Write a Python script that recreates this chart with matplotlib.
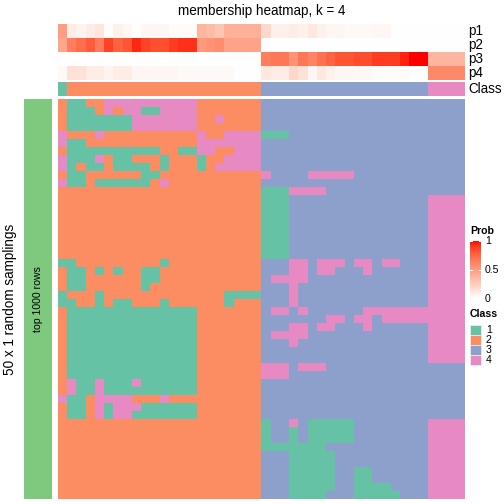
import numpy as np
import matplotlib
matplotlib.use("Agg")
import matplotlib.pyplot as plt
from matplotlib.colors import ListedColormap

plt.rcParams['font.family'] = ['Liberation Sans', 'DejaVu Sans']

# ---------------- data ----------------
title = "membership heatmap, k = 4"
row_title = "50 x 1 random samplings"
bar_label = "top 1000 rows"
ann_names = ["p1", "p2", "p3", "p4"]
class_names = ["1", "2", "3", "4"]
class_colors = ["#66C2A5", "#FC8D62", "#8DA0CB", "#E78AC3"]

# class of each column (sample) in the top annotation
col_class = [1] + [2] * 21 + [3] * 18 + [4] * 4

p1 = [0.50,
      0.10, 0.06, 0.09, 0.13, 0.01, 0.08, 0.04, 0.00, 0.05, 0.05, 0.05, 0.02, 0.02, 0.02,
      0.38, 0.35, 0.30, 0.40, 0.40, 0.40, 0.40,
      0.20, 0.08, 0.08, 0.10, 0.08, 0.12, 0.08, 0.05, 0.05, 0.03, 0.03, 0.03, 0.04, 0.04,
      0.00, 0.00, 0.00, 0.00,
      0.00, 0.00, 0.00, 0.00]
p2 = [0.45,
      0.65, 0.72, 0.80, 0.66, 0.88, 0.77, 0.82, 0.95, 0.88, 0.84, 0.84, 0.90, 0.93, 0.93,
      0.52, 0.55, 0.58, 0.47, 0.47, 0.47, 0.47,
      0, 0, 0, 0, 0, 0, 0, 0, 0, 0, 0, 0, 0, 0, 0, 0, 0, 0,
      0, 0, 0, 0]
p3 = [0.00,
      0, 0, 0, 0, 0, 0, 0, 0, 0, 0, 0, 0, 0, 0, 0, 0, 0, 0, 0, 0, 0,
      0.65, 0.68, 0.68, 0.55, 0.68, 0.62, 0.70, 0.76, 0.82, 0.82, 0.85, 0.85, 0.90, 0.90,
      0.90, 0.96, 1.00, 1.00,
      0.38, 0.38, 0.38, 0.38]
p4 = [0.03,
      0.15, 0.15, 0.10, 0.10, 0.06, 0.10, 0.10, 0.05, 0.05, 0.05, 0.05, 0.05, 0.03, 0.03,
      0.03, 0.03, 0.03, 0.03, 0.00, 0.00, 0.00,
      0.12, 0.10, 0.10, 0.20, 0.15, 0.05, 0.12, 0.08, 0.04, 0.04, 0.04, 0.04, 0.02, 0.02,
      0.02, 0.02, 0.00, 0.00,
      0.60, 0.60, 0.60, 0.60]

# membership class per sampling (rows) and sample (columns);
# blocks: class-1 col | class-2 cols | class-3 cols | class-4 cols
membership_rows = [
    "2 112244444444442222222 333333333333333333 3333",
    "2 111242441144442222222 333333333333333333 3333",
    "2 111111144444442242222 333333333333333333 3333",
    "2 111111144444442222222 333333333333333333 3333",
    "4 222422222222224224444 111333333333333333 3333",
    "4 112222222222224444444 333333333333333333 3333",
    "2 111111111122114422444 333333333333333333 3333",
    "4 111421122212221224444 333333333333333333 3333",
    "4 121121111212221244444 333333333333333333 3333",
    "2 112222221122222222222 433334444433333333 3333",
    "4 112111111242222222222 333333333333333333 3333",
    "2 222222222222222222222 111444433333333333 3333",
    "2 222222222222222222222 111333333333333333 4444",
    "2 222222222222222222222 111333333333333333 4444",
    "2 222222222222222222222 111333333333333333 4444",
    "2 222222222222222222222 111333333333333333 4444",
    "2 222222222222222222222 111333333333333333 4444",
    "2 222222222222222222222 111333333333333333 4444",
    "2 222222222222222222222 111333333333333333 4444",
    "2 222222222222222222222 111333333333333333 4444",
    "1 122222222212222222222 333443444344344333 4444",
    "2 112121221122222222222 333443443334333333 4444",
    "2 112222221122222222222 344443333333333333 4444",
    "2 112222221222222222222 333433333333333333 4444",
    "1 222122222222222221111 333433333333333333 4444",
    "1 122121122212222221222 333433333333333333 4444",
    "2 111111111111112222222 344343333334444444 4444",
    "2 111111111111112222222 333333344344344444 4444",
    "2 111111111111112222222 333443443334333333 4444",
    "2 111111111111112222222 344443333333333333 4444",
    "2 111111111111112222222 333433333333333333 4444",
    "2 111111111111112222222 333333333333333333 4444",
    "2 111111111111112222222 333333333333333333 4444",
    "2 111111111111112222222 444344433333333333 3333",
    "2 111111111111112222222 444333333333333333 3333",
    "2 411411141111112222222 333333333333333333 3333",
    "2 411411111111112222222 333333333333333333 3333",
    "4 112444422242222222222 333333333333333333 3333",
    "2 112414441111112222222 333333333333333333 3333",
    "2 112414411111112222222 333333333333333333 3333",
    "2 222222222222222222222 133431111133333333 4444",
    "2 222222222222222222222 133131111133333333 4444",
    "2 222222222222222222222 133131111133333333 4444",
    "2 222222222222222222222 111111133333333333 4444",
    "2 222222222222222222222 333111113333333333 4444",
    "2 222222222222222222222 333111113333333333 4444",
    "2 222222222222222222222 333111113311333333 4444",
    "2 222222222222222222222 333111113311333333 4444",
    "2 222222222222222222222 333111113311113333 4444",
    "2 222222222222222222222 333111133311111333 4444",
]
prob_ticks = [0, 0.5, 1]
prob_tick_labels = ["0", "0.5", "1"]


# ---------------- helpers ----------------
def srgb_to_lab(c):
    c = np.asarray(c, float)
    lin = np.where(c <= 0.04045, c / 12.92, ((c + 0.055) / 1.055) ** 2.4)
    M = np.array([[0.4124, 0.3576, 0.1805],
                  [0.2126, 0.7152, 0.0722],
                  [0.0193, 0.1192, 0.9505]])
    xyz = M @ lin / np.array([0.95047, 1.0, 1.08883])
    f = np.where(xyz > 0.008856, np.cbrt(xyz), 7.787 * xyz + 16 / 116)
    return np.array([116 * f[1] - 16, 500 * (f[0] - f[1]), 200 * (f[1] - f[2])])


def lab_to_srgb(lab):
    L, a, b = lab
    fy_ = (L + 16) / 116
    fx_ = fy_ + a / 500
    fz_ = fy_ - b / 200
    f = np.array([fx_, fy_, fz_])
    xyz = np.where(f ** 3 > 0.008856, f ** 3, (f - 16 / 116) / 7.787)
    xyz = xyz * np.array([0.95047, 1.0, 1.08883])
    Minv = np.array([[3.2406, -1.5372, -0.4986],
                     [-0.9689, 1.8758, 0.0415],
                     [0.0557, -0.2040, 1.0570]])
    lin = np.clip(Minv @ xyz, 0, 1)
    c = np.where(lin <= 0.0031308, 12.92 * lin, 1.055 * lin ** (1 / 2.4) - 0.055)
    return np.clip(c, 0, 1)


lab_w = srgb_to_lab([1, 1, 1])
lab_r = srgb_to_lab([1, 0, 0])
prob_cmap = ListedColormap([lab_to_srgb(lab_w + (lab_r - lab_w) * t)
                            for t in np.linspace(0, 1, 256)])
class_cmap = ListedColormap(class_colors)

W = H = 504
fig = plt.figure(figsize=(W / 72, H / 72), dpi=72)


def box(x0, y0, x1, y1):
    ax = fig.add_axes([x0 / W, 1 - y1 / H, (x1 - x0) / W, (y1 - y0) / H])
    ax.set_axis_off()
    return ax


def fy(y):
    return 1 - y / H


FS = 13.5
HX0, HX1 = 58, 465
HY0, HY1 = 99, 499

# title
fig.text((HX0 + HX1) / 2 / W, fy(11), title, ha="center", va="center", fontsize=FS)

# top annotation (probabilities)
ax_p = box(HX0, 24, HX1, 80)
ax_p.imshow(np.array([p1, p2, p3, p4]), cmap=prob_cmap, vmin=0, vmax=1,
            aspect="auto", interpolation="nearest")
for i, nm in enumerate(ann_names):
    fig.text(468 / W, fy(31 + 14 * i), nm, ha="left", va="center", fontsize=FS)

# class annotation
ax_c = box(HX0, 82, HX1, 96)
ax_c.imshow(np.array([col_class]), cmap=class_cmap, vmin=0.5, vmax=4.5,
            aspect="auto", interpolation="nearest")
fig.text(468 / W, fy(89), "Class", ha="left", va="center", fontsize=FS)

# main heatmap
mat = np.array([[int(ch) for ch in r.replace(" ", "")] for r in membership_rows])
ax_h = box(HX0, HY0, HX1, HY1)
ax_h.imshow(mat, cmap=class_cmap, vmin=0.5, vmax=4.5, aspect="auto",
            interpolation="nearest")

# row split bar + titles
ax_g = box(24, HY0, 52, HY1)
ax_g.add_patch(plt.Rectangle((0, 0), 1, 1, color="#7FC97F", transform=ax_g.transAxes))
ax_g.text(0.5, 0.5, bar_label, rotation=90, ha="center", va="center",
          fontsize=10.5, transform=ax_g.transAxes)
fig.text(10 / W, fy((HY0 + HY1) / 2), row_title, rotation=90, ha="center",
         va="center", fontsize=FS)

# Prob legend
fig.text(470 / W, fy(231), "Prob", ha="left", va="center", fontsize=10.5,
         fontweight="bold")
ax_l = fig.add_axes([470 / W, fy(299), 11 / W, 58 / H])
ax_l.imshow(np.linspace(1, 0, 200)[:, None], cmap=prob_cmap, vmin=0, vmax=1,
            aspect="auto", extent=(0, 1, 0, 1))
ax_l.set_xlim(0, 1)
ax_l.set_ylim(0, 1)
ax_l.set_axis_off()
for v, lab in zip(prob_ticks, prob_tick_labels):
    ax_l.plot([0, 0.2], [v, v], color="white", lw=1)
    ax_l.plot([0.8, 1], [v, v], color="white", lw=1)
    fig.text(485 / W, fy(299 - 58 * v), lab, ha="left", va="center", fontsize=10.5)

# Class legend
fig.text(470 / W, fy(314), "Class", ha="left", va="center", fontsize=10.5,
         fontweight="bold")
for i, (nm, col) in enumerate(zip(class_names, class_colors)):
    y0 = 325 + 10 * i
    fig.patches.append(plt.Rectangle((470 / W, fy(y0 + 10)), 11 / W, 10 / H,
                                     facecolor=col, edgecolor="white", lw=0.5,
                                     transform=fig.transFigure, figure=fig))
    fig.text(486 / W, fy(y0 + 5), nm, ha="left", va="center", fontsize=10.5)

fig.savefig("out.png", dpi=72)
